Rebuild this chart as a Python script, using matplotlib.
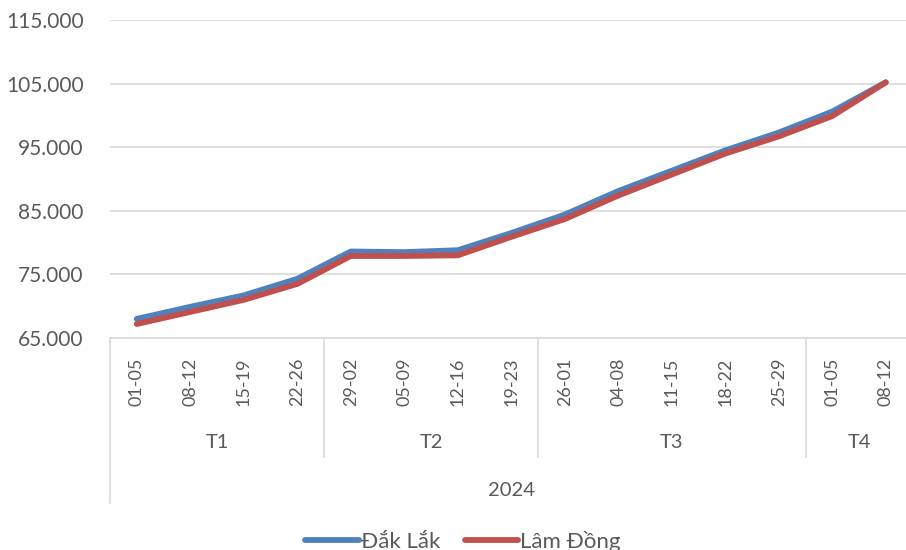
import matplotlib
matplotlib.use("Agg")
import matplotlib.pyplot as plt
from matplotlib.ticker import FuncFormatter
from matplotlib import transforms
from matplotlib.lines import Line2D

plt.rcParams['font.family'] = ['Lato', 'DejaVu Sans']

weeks = ["01-05", "08-12", "15-19", "22-26", "29-02", "05-09", "12-16", "19-23",
         "26-01", "04-08", "11-15", "18-22", "25-29", "01-05", "08-12"]
months = ["T1", "T2", "T3", "T4"]
month_sizes = [4, 4, 5, 2]
year = "2024"
y_ticks = [65000, 75000, 85000, 95000, 105000, 115000]
dak_lak = [68000, 69900, 71700, 74300, 78600, 78500, 78800, 81500,
           84400, 88100, 91300, 94500, 97300, 100600, 105200]
lam_dong = [67200, 69100, 71000, 73500, 77900, 77900, 78000, 80900,
            83700, 87400, 90700, 94000, 96700, 99900, 105200]

blue = "#4F81BD"
red = "#C0504D"
grid_c = "#D9D9D9"
txt_c = "#595959"

fig = plt.figure(figsize=(9.06, 5.5), dpi=100)
ax = fig.add_axes([110/906, 1-338/550, (912.5-110)/906, (338-20)/550])

x = list(range(len(weeks)))
ax.plot(x, dak_lak, color=blue, lw=4.2, solid_capstyle='round', solid_joinstyle='round', label="Đắk Lắk", zorder=3)
ax.plot(x, lam_dong, color=red, lw=4.2, solid_capstyle='round', solid_joinstyle='round', label="Lâm Đồng", zorder=4)

ax.set_xlim(-0.5, len(weeks)-0.5)
ax.set_ylim(y_ticks[0], y_ticks[-1])
ax.set_yticks(y_ticks)
ax.yaxis.set_major_formatter(FuncFormatter(lambda v, p: f"{v:,.0f}".replace(",", ".")))
ax.grid(axis='y', color=grid_c, lw=1.2)
ax.set_axisbelow(True)
for s in ['top', 'right', 'left']:
    ax.spines[s].set_visible(False)
ax.spines['bottom'].set_color(grid_c)
ax.spines['bottom'].set_linewidth(1.2)
ax.tick_params(axis='y', length=0, labelsize=15, labelcolor=txt_c, pad=19)
ax.tick_params(axis='x', length=0, labelbottom=False)

tr = transforms.blended_transform_factory(ax.transData, fig.transFigure)
def fy(py):
    return 1 - py/550

# week labels
for i, w in enumerate(weeks):
    ax.text(i, fy(358), w, rotation=90, ha='center', va='top', fontsize=13,
            color=txt_c, transform=tr)

# month separators and labels
start = 0
bounds = [-0.5]
for m, n in zip(months, month_sizes):
    end = start + n
    ax.text((start + end - 1)/2, fy(442), m, ha='center', va='center', fontsize=14.5,
            color=txt_c, transform=tr)
    bounds.append(end - 0.5)
    start = end
for b in bounds[1:-1]:
    ax.add_line(Line2D([b, b], [fy(338), fy(457)], color=grid_c, lw=1.2,
                       transform=tr, clip_on=False))
ax.add_line(Line2D([-0.5, -0.5], [fy(338), fy(503)], color=grid_c, lw=1.2,
                   transform=tr, clip_on=False))
ax.text((len(weeks)-1)/2, fy(490), year, ha='center', va='center', fontsize=14.5,
        color=txt_c, transform=tr)

leg = fig.legend(handles=[Line2D([], [], color=blue, lw=4.2, solid_capstyle='round'),
                          Line2D([], [], color=red, lw=4.2, solid_capstyle='round')],
                 labels=["Đắk Lắk", "Lâm Đồng"], loc='center', bbox_to_anchor=(463/906, fy(541)),
                 ncol=2, frameon=False, fontsize=16, handlelength=2.4, handletextpad=0.1,
                 columnspacing=1.1, labelcolor=txt_c)

fig.savefig("out.png", dpi=100)
